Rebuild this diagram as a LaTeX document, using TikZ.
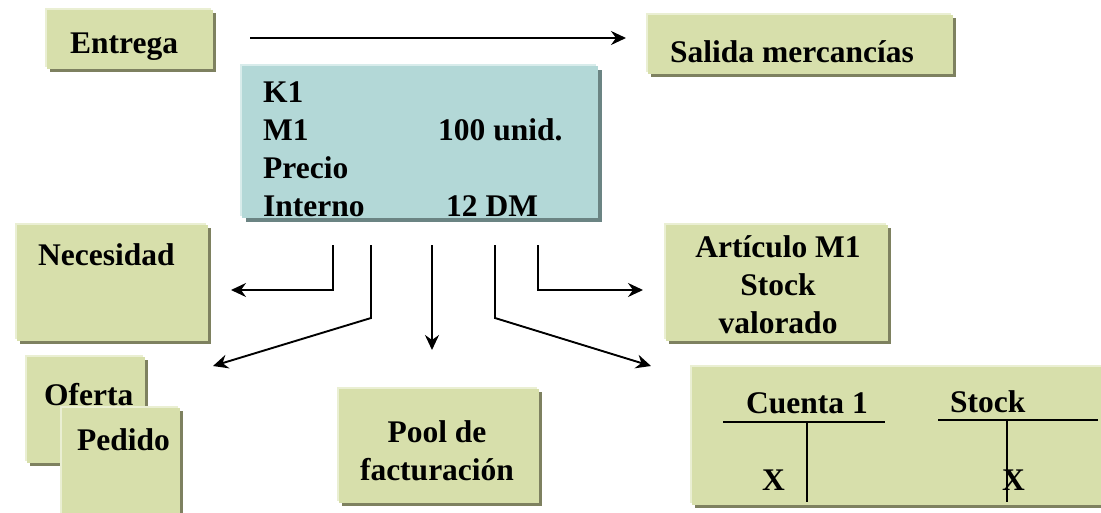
\documentclass[tikz,border=0pt]{standalone}
\usepackage{fontspec}
\setmainfont{Liberation Serif}
\usetikzlibrary{arrows.meta,shadows}
\definecolor{gfill}{HTML}{D7DFAB}
\definecolor{glight}{HTML}{EAEFD3}
\definecolor{gdark}{HTML}{7E8160}
\definecolor{bfill}{HTML}{B3D8D7}
\definecolor{blight}{HTML}{D8ECEB}
\definecolor{bdark}{HTML}{6B8483}
\tikzset{
  box/.style={rectangle, inner sep=0pt, anchor=north west, draw=none},
  gbox/.style={box, fill=gfill,
    general shadow={shadow xshift=-2pt, shadow yshift=2pt, fill=glight},
    general shadow={shadow xshift=3pt, shadow yshift=-3pt, fill=gdark}},
  bbox/.style={box, fill=bfill,
    general shadow={shadow xshift=-2pt, shadow yshift=2pt, fill=blight},
    general shadow={shadow xshift=4pt, shadow yshift=-4pt, fill=bdark}},
  txt/.style={inner sep=0pt, anchor=base west, font=\bfseries\fontsize{31.5}{38}\selectfont},
  ctxt/.style={txt, anchor=base},
  arr/.style={line width=1.9pt, -{Stealth[length=15pt,width=14pt,inset=5pt]}},
  ln/.style={line width=1.9pt},
}
\begin{document}
\begin{tikzpicture}[x=1pt,y=-1pt]
\useasboundingbox (0,0) rectangle (1101,512);
% boxes
\node[gbox, minimum width=166pt, minimum height=59pt] (entrega) at (47,10) {};
\node[gbox, minimum width=305pt, minimum height=59pt] (salida) at (648,15) {};
\node[bbox, minimum width=356pt, minimum height=152pt] (k1) at (242,66) {};
\node[gbox, minimum width=191pt, minimum height=116pt] (necesidad) at (17,225) {};
\node[gbox, minimum width=222pt, minimum height=116pt] (articulo) at (666,225) {};
\node[gbox, minimum width=118pt, minimum height=106pt] (oferta) at (27,357) {};
\node[gbox, minimum width=118pt, minimum height=115pt] (pedido) at (62,408) {};
\node[gbox, minimum width=200pt, minimum height=114pt] (pool) at (339,389) {};
\node[gbox, minimum width=420pt, minimum height=138pt] (cuenta) at (692,367) {};
% texts
\node[txt] (tentrega) at (70,53) {Entrega};
\node[txt] (tsalida) at (670,62) {Salida mercancías};
\node[txt] (tk1) at (263,102) {K1};
\node[txt] (tm1) at (263,140) {M1};
\node[txt] (tunid) at (438,140) {100 unid.};
\node[txt] (tprecio) at (263,178) {Precio};
\node[txt] (tinterno) at (263,216) {Interno};
\node[txt] (tdm) at (446,216) {12 DM};
\node[txt] (tnec) at (38,265) {Necesidad};
\node[ctxt] (tart1) at (778,257) {Artículo M1};
\node[ctxt] (tart2) at (778,295) {Stock};
\node[ctxt] (tart3) at (778,333) {valorado};
\node[txt] (tofe) at (44,405) {Oferta};
\node[txt] (tped) at (77,450) {Pedido};
\node[ctxt] (tpool1) at (437,442) {Pool de};
\node[ctxt] (tpool2) at (437,480) {facturación};
\node[ctxt] (tcta) at (807,413) {Cuenta 1};
\node[txt] (tstock) at (950,412) {Stock};
\node[txt] (tx1) at (762,490) {X};
\node[txt] (tx2) at (1002,490) {X};
% T-accounts
\coordinate (c1l) at (723,422); \coordinate (c1r) at (885,422);
\coordinate (c1t) at (807,422); \coordinate (c1b) at (807,502);
\coordinate (c2l) at (938,420); \coordinate (c2r) at (1098,420);
\coordinate (c2t) at (1007,420); \coordinate (c2b) at (1007,502);
\draw[ln] (c1l) -- (c1r);
\draw[ln] (c1t) -- (c1b);
\draw[ln] (c2l) -- (c2r);
\draw[ln] (c2t) -- (c2b);
% arrows
\coordinate (a0s) at (250,38); \coordinate (a0e) at (626,38);
\draw[arr] (a0s) -- (a0e);
\coordinate (a1s) at (333,245); \coordinate (a1e) at (231,290);
\draw[arr] (a1s) |- (a1e);
\coordinate (a2s) at (371,245); \coordinate (a2m) at (371,318); \coordinate (a2e) at (213,366);
\draw[arr] (a2s) -- (a2m) -- (a2e);
\coordinate (a3s) at (432,245); \coordinate (a3e) at (432,350);
\draw[arr] (a3s) -- (a3e);
\coordinate (a4s) at (495,245); \coordinate (a4m) at (495,318); \coordinate (a4e) at (651,366);
\draw[arr] (a4s) -- (a4m) -- (a4e);
\coordinate (a5s) at (538,245); \coordinate (a5e) at (643,290);
\draw[arr] (a5s) |- (a5e);
\end{tikzpicture}
\end{document}
